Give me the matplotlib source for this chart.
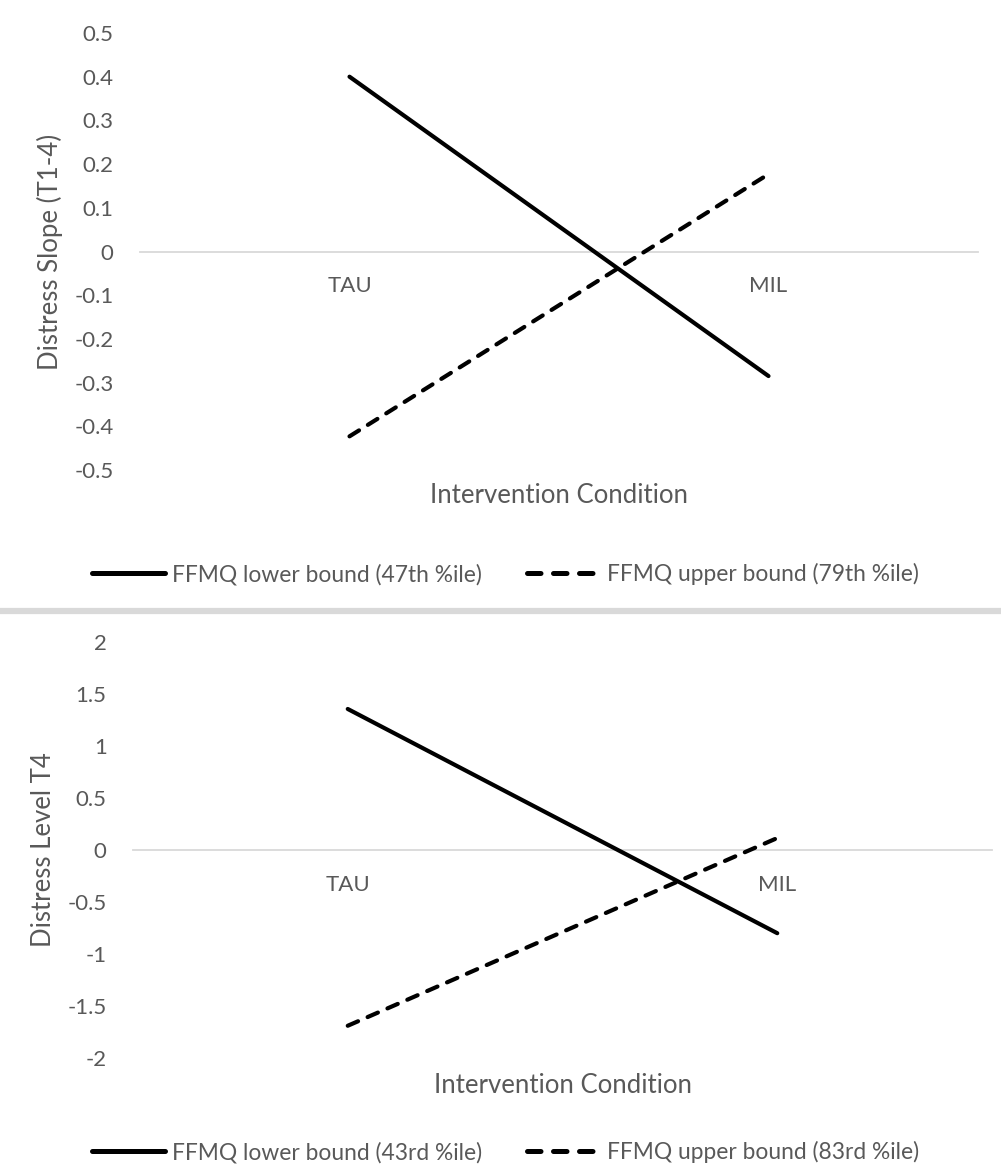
import numpy as np
import matplotlib.pyplot as plt
from matplotlib.lines import Line2D

plt.rcParams['font.family'] = ['Lato', 'DejaVu Sans']

# Data
conditions = ["TAU", "MIL"]

slope_lower = [0.40, -0.285]
slope_upper = [-0.423, 0.177]
slope_ticks = [0.5, 0.4, 0.3, 0.2, 0.1, 0, -0.1, -0.2, -0.3, -0.4, -0.5]
slope_ticklabels = ["0.5", "0.4", "0.3", "0.2", "0.1", "0", "-0.1", "-0.2", "-0.3", "-0.4", "-0.5"]
slope_labels = ["FFMQ lower bound (47th %ile)", "FFMQ upper bound (79th %ile)"]

level_lower = [1.356, -0.80]
level_upper = [-1.69, 0.115]
level_ticks = [2, 1.5, 1, 0.5, 0, -0.5, -1, -1.5, -2]
level_ticklabels = ["2", "1.5", "1", "0.5", "0", "-0.5", "-1", "-1.5", "-2"]
level_labels = ["FFMQ lower bound (43rd %ile)", "FFMQ upper bound (83rd %ile)"]

grey = "#595959"
W, H = 1001, 1171
dash = (0, (2.7, 2.5))

fig = plt.figure(figsize=(W/100, H/100), dpi=100)

def px_axes(l, r, t, b):
    return fig.add_axes([l/W, 1-b/H, (r-l)/W, (b-t)/H])

def panel(ax, lower, upper, ticks, ticklabels, ylab, labels, ylab_x, xtitle_y, leg_y):
    x = np.arange(len(conditions))
    ax.plot(x, lower, color="black", lw=3.0, solid_capstyle="round")
    ax.plot(x, upper, color="black", lw=3.0, linestyle=dash, dash_capstyle="round")
    ax.set_xlim(-0.5, 1.5)
    ax.set_ylim(min(ticks), max(ticks))
    ax.set_yticks(ticks)
    ax.set_yticklabels(ticklabels)
    ax.set_xticks(x)
    ax.set_xticklabels(conditions)
    for s in ["top", "right", "left"]:
        ax.spines[s].set_visible(False)
    ax.spines["bottom"].set_position(("data", 0))
    ax.spines["bottom"].set_color("#d9d9d9")
    ax.spines["bottom"].set_linewidth(1.3)
    ax.spines["bottom"].set_zorder(0)
    ax.tick_params(axis="y", length=0, pad=19, labelsize=16, labelcolor=grey)
    ax.tick_params(axis="x", length=0, pad=18, labelsize=16, labelcolor=grey)
    ax.text(ylab_x, 0.5, ylab, transform=ax.transAxes, rotation=90, ha="center", va="center",
            fontsize=18.5, color=grey)
    ax.text(0.5, xtitle_y, "Intervention Condition", transform=ax.transAxes, ha="center", va="center",
            fontsize=18.5, color=grey)
    handles = [Line2D([], [], color="black", lw=3.6, solid_capstyle="round"),
               Line2D([], [], color="black", lw=3.6, linestyle=dash, dash_capstyle="round")]
    fig.legend(handles, labels, loc="center", bbox_to_anchor=(0.505, 1-leg_y/H), ncol=2, frameon=False,
               fontsize=16.4, labelcolor=grey, handlelength=3.2, handletextpad=0.3, columnspacing=2.0)

ax1 = px_axes(140, 978, 33, 470)
panel(ax1, slope_lower, slope_upper, slope_ticks, slope_ticklabels, "Distress Slope (T1-4)",
      slope_labels, -0.107, -0.058, 574)

ax2 = px_axes(133, 992, 642, 1058)
panel(ax2, level_lower, level_upper, level_ticks, level_ticklabels, "Distress Level T4",
      level_labels, -0.104, -0.065, 1152)

# separator band between the two charts
fig.add_artist(Line2D([3/W, 1], [1-611/H, 1-611/H], color="#d9d9d9", lw=4.5))

fig.savefig("out.png", dpi=100)
